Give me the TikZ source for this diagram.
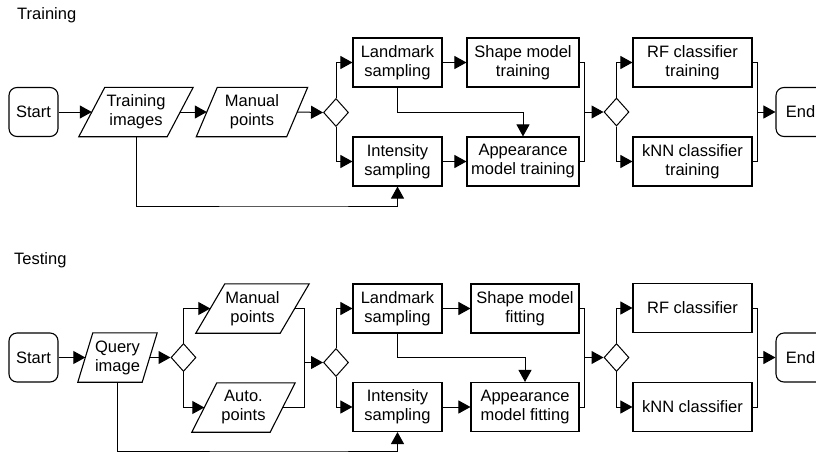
\documentclass[tikz,border=0pt]{standalone}
\usepackage{fontspec}
\setmainfont{Liberation Sans}
\usetikzlibrary{arrows.meta,shapes.geometric}

\begin{document}
\begin{tikzpicture}[x=1pt,y=-1pt,
  every node/.style={font=\fontsize{16.5}{19}\selectfont, align=center, inner sep=0pt},
  box/.style={draw, line width=1.1pt, rectangle, minimum height=49pt},
  term/.style={box, rounded corners=8pt, minimum width=49pt},
  io/.style={rectangle, minimum height=49pt},
  choice/.style={draw, line width=1pt, diamond, minimum width=25pt, minimum height=28pt},
  flow/.style={line width=1pt, -{Triangle[length=12pt,width=13pt]}},
  link/.style={line width=1pt}]
\useasboundingbox (0,0) rectangle (816,453);
\clip (0,0) rectangle (816,453);

% ---------------- Training ----------------
\node[anchor=west] (trainlbl) at (17,15) {Training};

\node[term] (start1) at (33.5,112) {Start};
\node[io, minimum width=88pt] (ti) at (136,112) {Training\\images};
\node[io, minimum width=90pt] (mp) at (252,112) {Manual\\points};
\node[choice] (d1) at (336,112.5) {};
\node[box, minimum width=89pt] (lm) at (397.5,62.5) {Landmark\\sampling};
\node[box, minimum width=89pt] (is) at (397.5,161.5) {Intensity\\sampling};
\node[box, minimum width=112pt] (sm) at (523,62.5) {Shape model\\training};
\node[box, minimum width=112pt] (am) at (523,161.5) {Appearance\\model training};
\node[choice] (d2) at (616.5,112) {};
\node[box, minimum width=119pt] (rf) at (692.5,62.5) {RF classifier\\training};
\node[box, minimum width=119pt] (knn) at (692.5,161.5) {kNN classifier\\training};
\node[term] (end1) at (800.5,112) {End};

\coordinate (k1) at (397.5,112);
\coordinate (f1) at (300,206);
\coordinate (j1) at (584,112);
\coordinate (j2) at (757,112);

\draw[flow] (start1.east) -- (ti.west);
\draw[flow] (ti.east) -- (mp.west);
\draw[flow] (mp.east) -- (d1.west);
\draw[flow] (d1.north) |- (lm.west);
\draw[flow] (d1.south) |- (is.west);
\draw[flow] (lm.east) -- (sm.west);
\draw[flow] (is.east) -- (am.west);
\draw[flow] (lm.south) -- (k1) -| (am.north);
\draw[flow] (ti.south) |- (f1) -| (is.south);
\draw[link] (sm.east) -| (j1);
\draw[link] (am.east) -| (j1);
\draw[flow] (j1) -- (d2.west);
\draw[flow] (d2.north) |- (rf.west);
\draw[flow] (d2.south) |- (knn.west);
\draw[link] (rf.east) -| (j2);
\draw[link] (knn.east) -| (j2);
\draw[flow] (j2) -- (end1.west);

% ---------------- Testing ----------------
\node[anchor=west] (testlbl) at (14,260) {Testing};

\node[term] (start2) at (33.5,357.5) {Start};
\node[io, minimum width=64pt] (qi) at (117.5,357.5) {Query\\image};
\node[choice] (d3) at (183.5,357.5) {};
\node[io, minimum width=84pt] (mp2) at (252.5,308.5) {Manual\\points};
\node[io, minimum width=78pt] (ap) at (243.5,407.5) {Auto.\\points};
\node[choice] (d4) at (336,362.5) {};
\node[box, minimum width=89pt] (lm2) at (397.5,308.5) {Landmark\\sampling};
\node[box, minimum width=89pt] (is2) at (397.5,407) {Intensity\\sampling};
\node[box, minimum width=108pt] (sm2) at (525,308.5) {Shape model\\fitting};
\node[box, minimum width=108pt] (am2) at (525,407) {Appearance\\model fitting};
\node[choice] (d5) at (616.5,357.5) {};
\node[box, minimum width=119pt] (rf2) at (692.5,308) {RF classifier};
\node[box, minimum width=119pt] (knn2) at (692.5,407) {kNN classifier};
\node[term] (end2) at (800.5,357.5) {End};

\coordinate (k2) at (397.5,357);
\coordinate (f2) at (300,451);
\coordinate (j0) at (304,362.5);
\coordinate (j3) at (584,357.5);
\coordinate (j4) at (757,357.5);

\draw[flow] (start2.east) -- (qi.west);
\draw[flow] (qi.east) -- (d3.west);
\draw[flow] (d3.north) |- (mp2.west);
\draw[flow] (d3.south) |- (ap.west);
\draw[link] (mp2.east) -| (j0);
\draw[link] (ap.east) -| (j0);
\draw[flow] (j0) -- (d4.west);
\draw[flow] (d4.north) |- (lm2.west);
\draw[flow] (d4.south) |- (is2.west);
\draw[flow] (lm2.east) -- (sm2.west);
\draw[flow] (is2.east) -- (am2.west);
\draw[flow] (lm2.south) -- (k2) -| (am2.north);
\draw[flow] (qi.south) |- (f2) -| (is2.south);
\draw[link] (sm2.east) -| (j3);
\draw[link] (am2.east) -| (j3);
\draw[flow] (j3) -- (d5.west);
\draw[flow] (d5.north) |- (rf2.west);
\draw[flow] (d5.south) |- (knn2.west);
\draw[link] (rf2.east) -| (j4);
\draw[link] (knn2.east) -| (j4);
\draw[flow] (j4) -- (end2.west);

% slanted outlines of the data (parallelogram) nodes
\foreach \n/\s in {ti/26, mp/21, qi/15, mp2/29, ap/25}
  \draw[line width=1.1pt]
    ([xshift=\s*0.5pt]\n.north west) -- ([xshift=\s*0.5pt]\n.north east) --
    ([xshift=-\s*0.5pt]\n.south east) -- ([xshift=-\s*0.5pt]\n.south west) -- cycle;
\end{tikzpicture}
\end{document}
